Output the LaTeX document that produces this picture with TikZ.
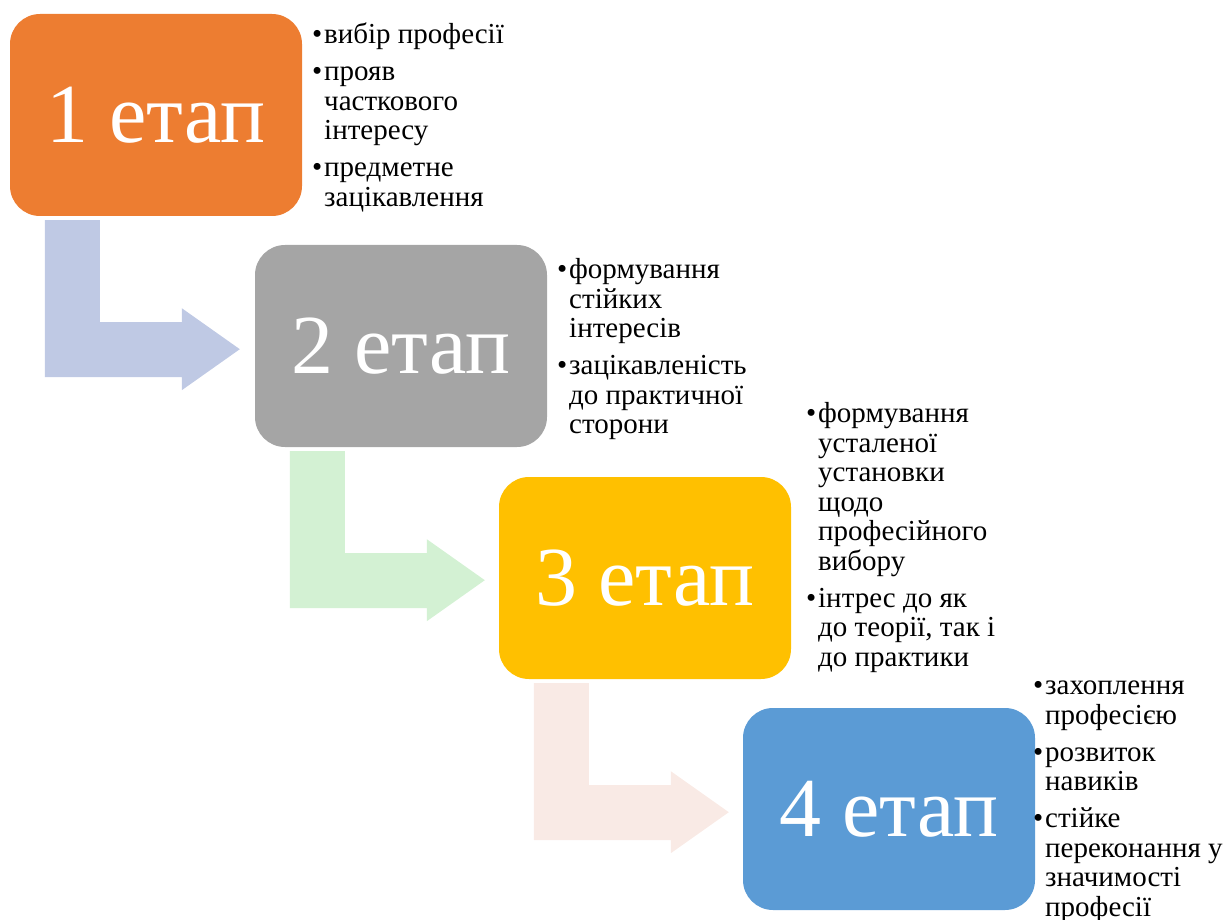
\documentclass[tikz,border=0pt]{standalone}
\usepackage{fontspec}
\setmainfont{Liberation Serif}
\usetikzlibrary{positioning}
\definecolor{etapA}{HTML}{ED7D31}
\definecolor{etapB}{HTML}{A5A5A5}
\definecolor{etapC}{HTML}{FFC000}
\definecolor{etapD}{HTML}{5B9BD5}
\definecolor{strA}{HTML}{BFC9E4}
\definecolor{strB}{HTML}{D3F1D3}
\definecolor{strC}{HTML}{F9EAE5}
\newcommand{\itm}{\makebox[12pt][l]{•}}
\newcommand{\ind}{\hspace*{12pt}}
\tikzset{
  etap/.style={rectangle,rounded corners=30pt,minimum width=292pt,minimum height=202pt,
    inner sep=0pt,text=white,font=\fontsize{84}{90}\selectfont},
  punkty/.style={anchor=north west,align=left,inner sep=0pt,
    font=\fontsize{29}{29.5}\selectfont},
}
\begin{document}
\begin{tikzpicture}[x=1pt,y=-1pt]
        \useasboundingbox (0,0) rectangle (1227,920);
        %
        \node[etap,fill=etapA] (s1) at (156,115) {1 етап};
        \node[etap,fill=etapB] (s2) at (401,346) {2 етап};
        \node[etap,fill=etapC] (s3) at (645,578) {3 етап};
        \node[etap,fill=etapD] (s4) at (889,809) {4 етап};
        %
        \foreach \i/\col in {1/strA,2/strB,3/strC}
        {
          \begin{scope}[shift={(s\i.south west)}]
            \fill[\col] (35,4) -- (90,4) -- (90,106) -- (172,106) -- (172,92) -- (230,133)
              -- (172,174) -- (172,161) -- (35,161) -- cycle;
          \end{scope}
        }
        %
        \node[punkty] (t1) at (312,23) {\strut\itm вибір професії\\[7.5pt]
          \itm прояв\\ \ind часткового\\ \ind інтересу\\[7.5pt]
          \itm предметне\\ \ind зацікавлення};
        \node[punkty] (t2) at (557,258) {\strut\itm формування\\ \ind стійких\\ \ind інтересів\\[7.5pt]
          \itm зацікавленість\\ \ind до практичної\\ \ind сторони};
        \node[punkty] (t3) at (806,402) {\strut\itm формування\\ \ind усталеної\\ \ind установки\\
          \ind щодо\\ \ind професійного\\ \ind вибору\\[7.5pt]
          \itm інтрес до як\\ \ind до теорії, так і\\ \ind до практики};
        \node[punkty] (t4) at (1033,674) {\strut\itm захоплення\\ \ind професією\\[7.5pt]
          \itm розвиток\\ \ind навиків\\[7.5pt]
          \itm стійке\\ \ind переконання у\\ \ind значимості\\ \ind професії};
        %
\end{tikzpicture}
\end{document}
